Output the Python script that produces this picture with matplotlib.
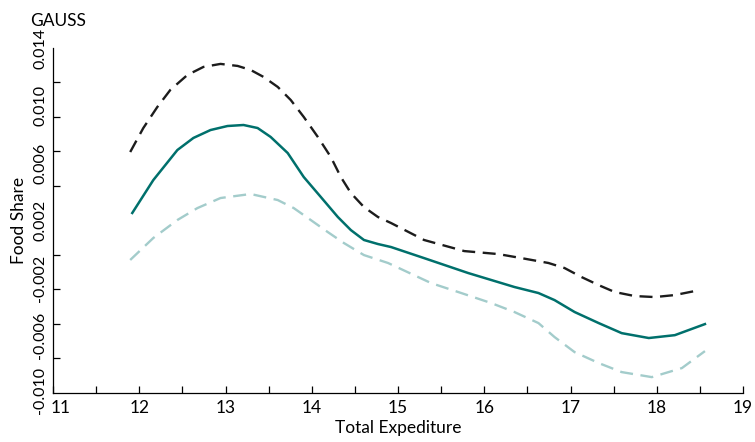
import numpy as np
import matplotlib
matplotlib.use("Agg")
import matplotlib.pyplot as plt
import matplotlib.transforms as mtransforms

plt.rcParams['font.family'] = ['Lato', 'DejaVu Sans']

# values
x_upper = [11.895, 12.047, 12.209, 12.360, 12.558, 12.744, 12.942, 13.140, 13.291, 13.442,
           13.605, 13.756, 13.907, 14.070, 14.221, 14.337, 14.453, 14.605, 14.767, 14.919,
           15.302, 15.767, 16.163, 16.430, 16.744, 16.930, 17.128, 17.326, 17.512, 17.744,
           17.977, 18.209, 18.442]
y_upper = [0.00676, 0.00843, 0.00989, 0.01108, 0.01212, 0.01268, 0.01289, 0.01275, 0.01247, 0.01198,
           0.01129, 0.01038, 0.00920, 0.00781, 0.00641, 0.00502, 0.00391, 0.00293, 0.00224, 0.00182,
           0.00064, -0.00013, -0.00034, -0.00062, -0.00096, -0.00131, -0.00194, -0.00250, -0.00298, -0.00326,
           -0.00333, -0.00319, -0.00291]

x_mid = [11.919, 12.163, 12.442, 12.628, 12.826, 13.023, 13.209, 13.372, 13.523, 13.721,
         13.907, 14.105, 14.302, 14.453, 14.605, 14.767, 14.919, 15.302, 15.814, 16.349,
         16.628, 16.814, 17.047, 17.326, 17.593, 17.907, 18.209, 18.558]
y_mid = [0.00252, 0.00481, 0.00690, 0.00774, 0.00829, 0.00857, 0.00864, 0.00843, 0.00781, 0.00669,
         0.00502, 0.00363, 0.00224, 0.00133, 0.00064, 0.00036, 0.00015, -0.00062, -0.00166, -0.00263,
         -0.00305, -0.00354, -0.00437, -0.00514, -0.00584, -0.00618, -0.00598, -0.00521]

x_lower = [11.895, 12.163, 12.442, 12.674, 12.942, 13.291, 13.605, 13.791, 13.988, 14.186,
           14.372, 14.605, 14.884, 15.384, 15.733, 16.081, 16.349, 16.628, 16.814, 17.047,
           17.326, 17.593, 17.942, 18.291, 18.558]
y_lower = [-0.00075, 0.00078, 0.00203, 0.00286, 0.00356, 0.00384, 0.00342, 0.00286, 0.00203, 0.00119,
           0.00043, -0.00041, -0.00096, -0.00236, -0.00305, -0.00375, -0.00437, -0.00514, -0.00611, -0.00716,
           -0.00792, -0.00855, -0.00890, -0.00827, -0.00709]

ytick_vals = [-0.010, -0.006, -0.002, 0.002, 0.006, 0.010, 0.014]
ytick_text = ["-0.010", "-0.006", "-0.002", "0.002", "0.006", "0.010", "0.014"]

fig = plt.figure(figsize=(7.55, 4.42), dpi=100)
ax = fig.add_axes([0.0702, 0.111, 0.914, 0.7805])

ax.plot(x_upper, y_upper, color='#1c1c1c', lw=1.7, dashes=(5.5, 3.2))
ax.plot(x_mid, y_mid, color='#00706c', lw=1.8)
ax.plot(x_lower, y_lower, color='#a3cccb', lw=1.7, dashes=(5.5, 3.2))

ax.set_xlim(11, 19)
ax.set_ylim(-0.010, 0.014)

ax.set_xticks(range(11, 20))
ax.set_xticks(np.arange(11.5, 19, 1.0), minor=True)
ax.tick_params(axis='x', which='both', direction='in', length=5, width=0.9,
               labelsize=12.5, pad=5)

# labels along the value scale, tick marks evenly spread
ax.set_yticks(ytick_vals, ytick_text)
ax.set_yticks(np.linspace(-0.010, 0.014, 11), minor=True)
ax.tick_params(axis='y', which='major', length=0, labelsize=11.5, pad=4)
ax.tick_params(axis='y', which='minor', direction='in', length=5, width=0.9)
for lab in ax.get_yticklabels():
    lab.set_rotation(90)
    lab.set_va('center')

# nudge the two corner labels apart like in the original
xl = ax.get_xticklabels()
xl[0].set_transform(xl[0].get_transform() + mtransforms.ScaledTranslation(8/100, 0, fig.dpi_scale_trans))
yl = ax.get_yticklabels()
yl[0].set_transform(yl[0].get_transform() + mtransforms.ScaledTranslation(0, 3/100, fig.dpi_scale_trans))

ax.spines['top'].set_visible(False)
ax.spines['right'].set_visible(False)
ax.spines['left'].set_linewidth(0.9)
ax.spines['bottom'].set_linewidth(0.9)

ax.set_xlabel('Total Expediture', fontsize=12.5, labelpad=3)
ax.set_ylabel('Food Share', fontsize=12.5, labelpad=5)

fig.text(0.040, 0.953, 'GAUSS', fontsize=12.5, va='center', ha='left')

fig.savefig('out.png', dpi=100)
